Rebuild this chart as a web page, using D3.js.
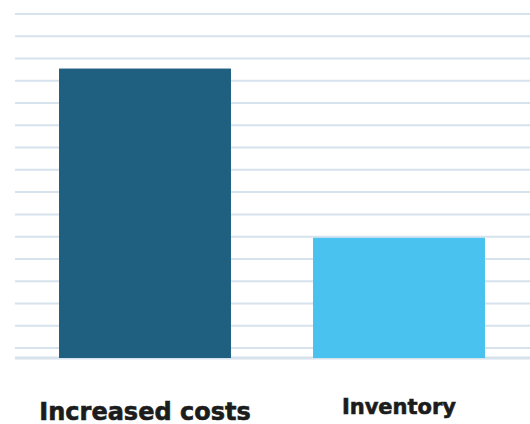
<!DOCTYPE html>
<html>
<head>
<meta charset="utf-8">
<script src="https://cdn.jsdelivr.net/npm/d3@7"></script>
<style>
  html, body { margin: 0; padding: 0; background: #fff; }
  svg { display: block; }
</style>
</head>
<body>
<svg id="chart" width="530" height="424"></svg>
<script>
// Data
const categories = ["Increased costs", "Inventory"];
const values = [13, 5.4];
const barColors = ["#1f5f7f", "#4ac2f0"];
// Gridline values (units on the y scale)
const gridValues = [0.45, 1.45, 2.45, 3.45, 4.45, 5.45, 6.45, 7.45, 8.45, 9.45, 10.45, 11.45, 12.45, 13.45, 14.45, 15.45];
const labelSizes = [24, 21];
const labelBaselines = [420, 414];

const svg = d3.select("#chart");
const W = 530;
const baseY = 358, topY = 14;

const y = d3.scaleLinear().domain([0, 15.45]).range([baseY, topY]);
const x = d3.scaleBand().domain(categories).range([18, 526]).paddingInner(0.323).paddingOuter(0.1615);

// gridlines
svg.append("g").selectAll("line").data(gridValues).join("line")
  .attr("x1", 15).attr("x2", W)
  .attr("y1", d => y(d)).attr("y2", d => y(d))
  .attr("stroke", "#d6e2ec").attr("stroke-width", 2);

// baseline
svg.append("line")
  .attr("x1", 15).attr("x2", W)
  .attr("y1", y(0)).attr("y2", y(0))
  .attr("stroke", "#d6e2ec").attr("stroke-width", 3);

// bars
svg.append("g").selectAll("rect").data(categories).join("rect")
  .attr("x", d => x(d))
  .attr("width", x.bandwidth())
  .attr("y", (d, i) => y(values[i]))
  .attr("height", (d, i) => y(0) - y(values[i]))
  .attr("fill", (d, i) => barColors[i]);

// labels
svg.append("g").selectAll("text").data(categories).join("text")
  .attr("x", d => x(d) + x.bandwidth() / 2)
  .attr("y", (d, i) => labelBaselines[i])
  .attr("text-anchor", "middle")
  .attr("font-family", "'DejaVu Sans', sans-serif")
  .attr("font-weight", 700)
  .attr("font-size", (d, i) => labelSizes[i])
  .attr("fill", "#1c1c1c")
  .attr("stroke", "#1c1c1c")
  .attr("stroke-width", 0.6)
  .text(d => d);
</script>
</body>
</html>
